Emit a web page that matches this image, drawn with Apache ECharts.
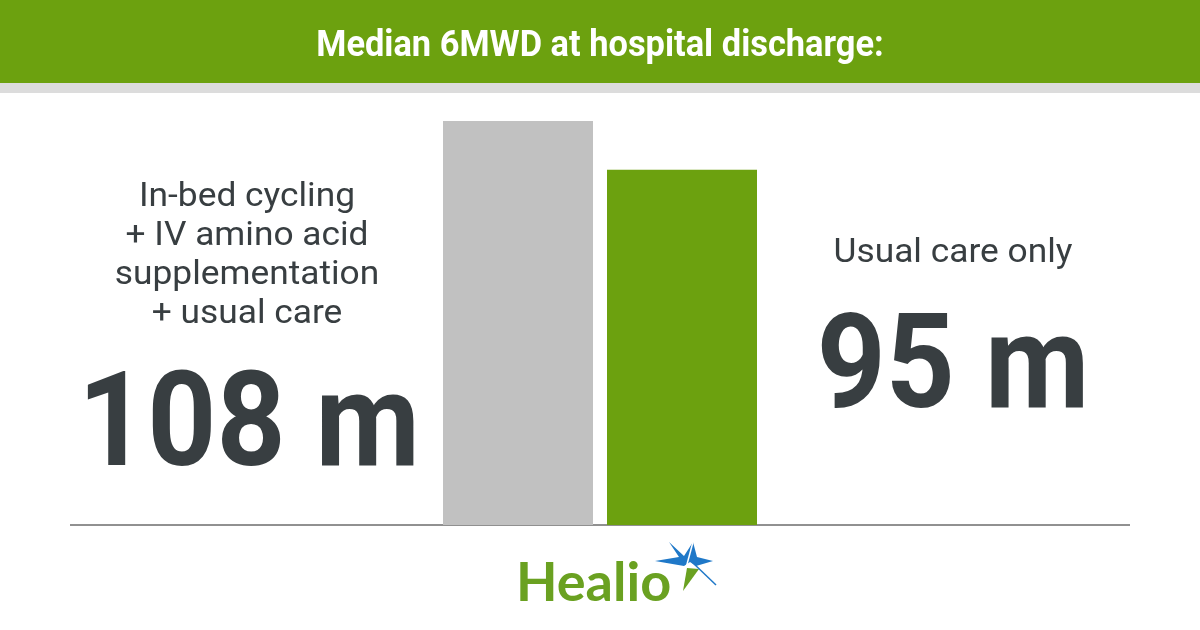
<!DOCTYPE html>
<html>
<head>
<meta charset="utf-8">
<script src="https://cdn.jsdelivr.net/npm/echarts@6/dist/echarts.min.js"></script>
<style>
  html, body { margin: 0; padding: 0; background: #fff; }
  #chart { width: 1200px; height: 630px; }
</style>
</head>
<body>
<div id="chart"></div>
<script>
  // 数据
  var groups = ['In-bed cycling\n+ IV amino acid\nsupplementation\n+ usual care', 'Usual care only'];
  var medians = [108, 95];
  var unit = ' m';
  var barColors = ['#c1c1c1', '#6ca10f'];

  var green = '#6ca10f', ink = '#383e41', blue = '#1f78c8';

  var myChart = echarts.init(document.getElementById('chart'));
  var option = {
    animation: false,
    backgroundColor: '#fff',
    grid: {
      left: 436,
      width: 328,
      top: 121,
      bottom: 105
    },
    xAxis: {
      type: 'category',
      data: groups,
      axisLine: {show: false},
      axisTick: {show: false},
      axisLabel: {show: false}
    },
    yAxis: {
      type: 'value',
      min: 0,
      max: medians[0],
      show: false,
      splitLine: {show: false}
    },
    series: [
      {
        type: 'bar',
        barWidth: 150,
        data: medians.map(function (v, i){
          return {value: v, itemStyle: {color: barColors[i]}};
        })
      }
    ],
    graphic: [
      /*标题栏*/
      {type: 'rect', shape: {x: 0, y: 0, width: 1200, height: 83}, style: {fill: green}, z: 1},
      {type: 'rect', shape: {x: 0, y: 83, width: 1200, height: 10}, style: {fill: '#dcdcdc'}, z: 1},
      {
        type: 'text', x: 600, y: 47, z: 2, scaleX: 0.93,
        style: {
          text: 'Median 6MWD at hospital discharge:',
          fill: '#fff',
          font: 'bold 37px Roboto',
          textAlign: 'center',
          textVerticalAlign: 'middle'
        }
      },
      /*基线*/
      {type: 'line', shape: {x1: 70, y1: 525, x2: 1130, y2: 525}, style: {stroke: '#222', lineWidth: 1}, z: 0},
      /*左侧说明*/
      {
        type: 'text', x: 247, y: 178, scaleX: 1.07,
        style: {
          text: groups[0],
          fill: ink,
          font: '33px Roboto',
          lineHeight: 39,
          textAlign: 'center'
        }
      },
      {
        type: 'text', x: 249, y: 432, scaleX: 0.92,
        style: {
          text: medians[0] + unit,
          fill: ink,
          font: 'bold 131px Roboto',
          textAlign: 'center',
          textVerticalAlign: 'middle'
        }
      },
      /*右侧说明*/
      {
        type: 'text', x: 953, y: 254, scaleX: 1.07,
        style: {
          text: groups[1],
          fill: ink,
          font: '33px Roboto',
          textAlign: 'center',
          textVerticalAlign: 'middle'
        }
      },
      {
        type: 'text', x: 953, y: 374, scaleX: 0.92,
        style: {
          text: medians[1] + unit,
          fill: ink,
          font: 'bold 131px Roboto',
          textAlign: 'center',
          textVerticalAlign: 'middle'
        }
      },
      /*Healio 标志*/
      {
        type: 'text', x: 516, y: 584,
        style: {
          text: 'Healio',
          fill: '#6aa121',
          font: 'bold 54px Lato',
          textVerticalAlign: 'middle'
        }
      },
      {
        type: 'polygon', z: 3,
        shape: {points: [[669, 542], [684, 556], [693, 542], [697, 557], [713, 561], [696, 566], [690, 562], [684, 566], [655, 561], [679, 557]]},
        style: {fill: blue}
      },
      {
        type: 'polygon', z: 3,
        shape: {points: [[687, 568], [699, 569], [683, 591]]},
        style: {fill: '#6aa121'}
      },
      {
        type: 'line', z: 4,
        shape: {x1: 692, y1: 562, x2: 716, y2: 585},
        style: {stroke: blue, lineWidth: 1.5}
      },
      {
        type: 'line', z: 4,
        shape: {x1: 693, y1: 542, x2: 686, y2: 568},
        style: {stroke: '#fff', lineWidth: 1.5}
      }
    ]
  };

  myChart.setOption(option);
</script>
</body>
</html>
